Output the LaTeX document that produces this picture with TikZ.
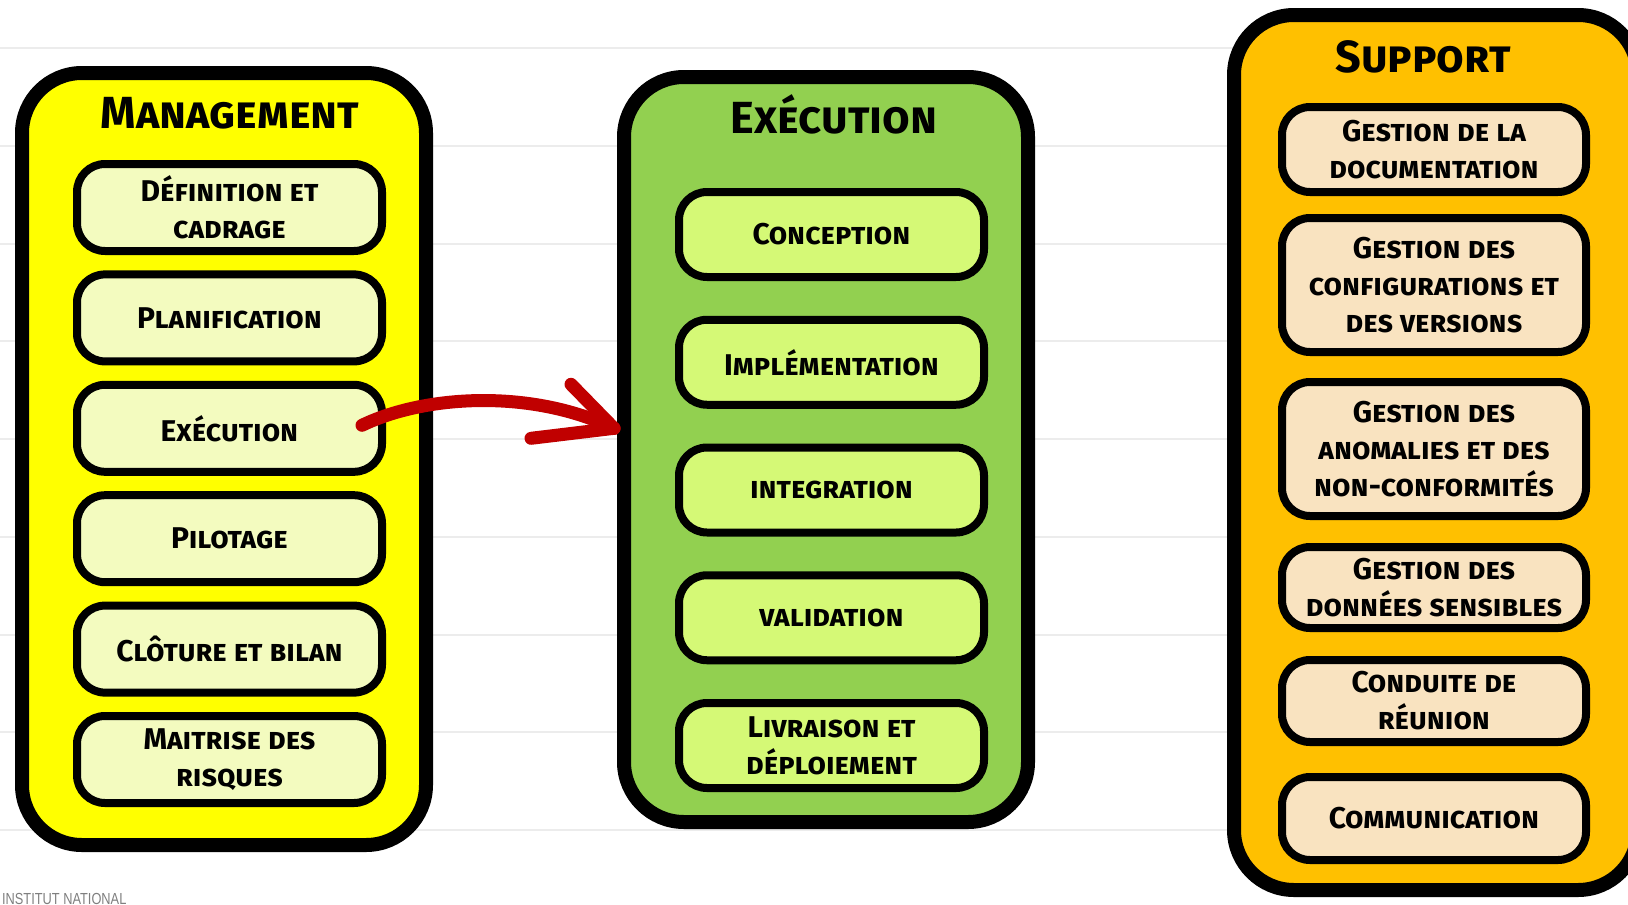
\documentclass[tikz,border=0pt]{standalone}
\usepackage{fontspec}
\newfontfamily\hand{Fira Sans}[Letters=SmallCaps]
\newfontfamily\plainsans{Liberation Sans}
\usetikzlibrary{calc}

\definecolor{mgmtfill}{HTML}{FFFF00}
\definecolor{mgmtitem}{HTML}{F3FBBF}
\definecolor{execfill}{HTML}{92D050}
\definecolor{execitem}{HTML}{D5F976}
\definecolor{suppfill}{HTML}{FFC000}
\definecolor{suppitem}{HTML}{F9E3C0}
\definecolor{gridgray}{HTML}{ECECEC}
\definecolor{arrred}{HTML}{C00000}
\definecolor{inkgray}{HTML}{7F7F7F}

\begin{document}
\begin{tikzpicture}[x=1pt,y=-1pt,
  column/.style={draw=black, line width=14pt, rounded corners=60pt, line join=round,
    minimum width=404pt, inner sep=0pt},
  item/.style={draw=black, line width=8pt, rounded corners=28pt, line join=round,
    minimum width=305pt, align=center, inner sep=0pt,
    font=\hand\bfseries\fontsize{30pt}{37pt}\selectfont},
  title/.style={anchor=base, inner sep=0pt,
    font=\hand\bfseries\fontsize{45pt}{50pt}\selectfont},
  ruling/.style={draw=gridgray, line width=2pt},
  flow/.style={draw=arrred, line width=13pt, line cap=round, line join=round}]

\clip (0,0) rectangle (1628,905);

% ruled background
\foreach \k in {0,...,8}
  \draw[ruling] (0,{48+97.75*\k}) -- (1628,{48+97.75*\k});

% the three columns
\node[column, fill=mgmtfill, minimum height=772pt] (M) at (224,459) {};
\node[column, fill=execfill, minimum height=745pt] (E) at (826,449.5) {};
\node[column, fill=suppfill, minimum height=875pt] (S) at (1436,452.5) {};

\node[title] (Mt) at (230,128) {Management};
\node[title] (Et) at (834,133) {Exécution};
\node[title] (St) at (1423,72) {Support};

% management activities
\node[item, fill=mgmtitem, minimum height=87pt] (m1) at (229.5,207.5) {Définition et\\cadrage};
\node[item, fill=mgmtitem, minimum height=87pt] (m2) at (229.5,317.9) {Planification};
\node[item, fill=mgmtitem, minimum height=87pt] (m3) at (229.5,428.3) {Exécution};
\node[item, fill=mgmtitem, minimum height=87pt] (m4) at (229.5,538.7) {Pilotage};
\node[item, fill=mgmtitem, minimum height=87pt] (m5) at (229.5,649.1) {Clôture et bilan};
\node[item, fill=mgmtitem, minimum height=87pt] (m6) at (229.5,759.5) {Maitrise des\\risques};

% execution activities
\node[item, fill=execitem, minimum height=85pt] (e1) at (831.5,234.5) {Conception};
\node[item, fill=execitem, minimum height=85pt] (e2) at (831.5,362.25) {Implémentation};
\node[item, fill=execitem, minimum height=85pt] (e3) at (831.5,490) {integration};
\node[item, fill=execitem, minimum height=85pt] (e4) at (831.5,617.75) {validation};
\node[item, fill=execitem, minimum height=85pt] (e5) at (831.5,745.5) {Livraison et\\déploiement};

% support activities
\node[item, fill=suppitem, minimum width=304pt, minimum height=85pt] (s1) at (1434,149.5) {Gestion de la\\documentation};
\node[item, fill=suppitem, minimum width=304pt, minimum height=134pt] (s2) at (1434,285) {Gestion des\\configurations et\\des versions};
\node[item, fill=suppitem, minimum width=304pt, minimum height=134pt] (s3) at (1434,449) {Gestion des\\anomalies et des\\non-conformités};
\node[item, fill=suppitem, minimum width=304pt, minimum height=81pt] (s4) at (1434,587.5) {Gestion des\\données sensibles};
\node[item, fill=suppitem, minimum width=304pt, minimum height=82pt] (s5) at (1434,701) {Conduite de\\réunion};
\node[item, fill=suppitem, minimum width=304pt, minimum height=83pt] (s6) at (1434,818.5) {Communication};

% link from the management step to the execution column
\coordinate (arrS) at ($(m3.east)+(-24,-3)$);
\coordinate (arrE) at ($(E.west |- m3.center)+(-3,0)$);
\draw[flow] (arrS) .. controls ($(arrS)+(62,-30)$) and ($(arrE)+(-84,-40)$) .. (arrE);
\draw[flow] (arrE) -- ++(-43,-44);
\draw[flow] (arrE) -- ++(-83,10);

% footer
\node[anchor=base west, inner sep=0pt, text=inkgray, xscale=0.8,
  font=\plainsans\fontsize{16pt}{16pt}\selectfont] (inst) at (2,904) {INSTITUT NATIONAL};
\end{tikzpicture}
\end{document}
